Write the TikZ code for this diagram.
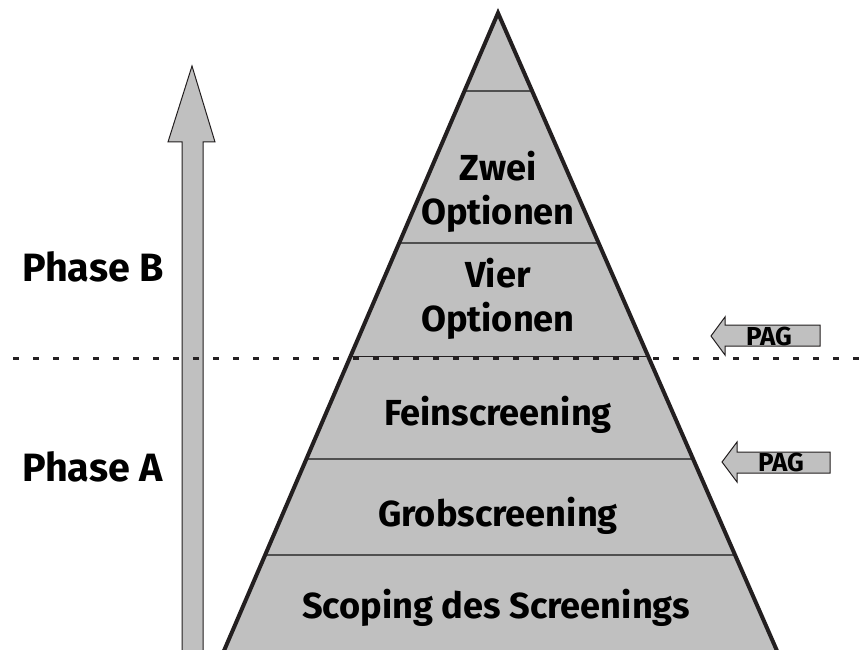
\documentclass[tikz,border=0pt]{standalone}
\usepackage{fontspec}
\setmainfont{Fira Sans}
\usetikzlibrary{calc}
\definecolor{fillgray}{HTML}{C0C0C0}
\definecolor{ink}{HTML}{231F20}
\definecolor{layer}{HTML}{505050}
\begin{document}
\begin{tikzpicture}[x=1pt,y=-1pt,
  lbl/.style={font=\fontsize{36.2}{44}\selectfont\bfseries, text=black, inner sep=0pt, align=center, anchor=base},
  phase/.style={font=\fontsize{39.5}{42}\selectfont\bfseries, inner sep=0pt, anchor=base west},
  pagtext/.style={font=\fontsize{26}{28}\selectfont\bfseries, inner sep=0pt, anchor=base},
  layerline/.style={draw=layer, line width=1.6},
  sideline/.style={draw=ink, line width=4, line join=miter},
  shapearrow/.style={fill=fillgray, draw=ink, line width=1},
  dashline/.style={draw=ink, line width=3, dash pattern=on 6pt off 14pt}]
\useasboundingbox (0,0) rectangle (862,650);
\clip (0,0) rectangle (862,650);
\coordinate (apex) at (498,13);
\coordinate (bl) at (220,660);
\coordinate (br) at (781,660);
% pyramid
\fill[fillgray] (apex) -- (bl) -- (br) -- cycle;
\foreach \t in {0.1225,0.3611,0.7002,0.8509}{
  \draw[layerline] ($(apex)!\t*637/647!(bl)$) -- ($(apex)!\t*637/647!(br)$);
}
\draw[ink, line width=1] ($(apex)!0.540*637/647!(bl)$) -- ($(apex)!0.540*637/647!(br)$);
\draw[sideline] (bl) -- (apex) -- (br);
% big arrow
\draw[shapearrow] (182,660) -- (182,142) -- (168,142) -- (192,66) -- (215,142) -- (203,142) -- (203,660);
% dashed divider
\coordinate (dl) at (13,358);
\coordinate (dr) at (870,358);
\draw[dashline] (dl) -- (dr);
% PAG arrows
\draw[shapearrow] (711,336) -- (725,317) -- (725,325) -- (820,325) -- (820,346) -- (725,346) -- (725,355) -- cycle;
\node[pagtext] (pag1) at (769,345) {PAG};
\draw[shapearrow] (722,462) -- (737,442) -- (737,452) -- (830,452) -- (830,473) -- (737,473) -- (737,482) -- cycle;
\node[pagtext] (pag2) at (781,471) {PAG};
% texts
\node[lbl] (zwei) at (498,224) {Zwei\\Optionen};
\node[lbl] (vier) at (498,331) {Vier\\Optionen};
\node[lbl] (fein) at (498,425) {Feinscreening};
\node[lbl] (grob) at (498,526) {Grobscreening};
\node[lbl] (scop) at (496,618) {Scoping des Screenings};
\node[phase] (phb) at (22,281) {Phase B};
\node[phase] (pha) at (22,481) {Phase A};
\end{tikzpicture}
\end{document}
